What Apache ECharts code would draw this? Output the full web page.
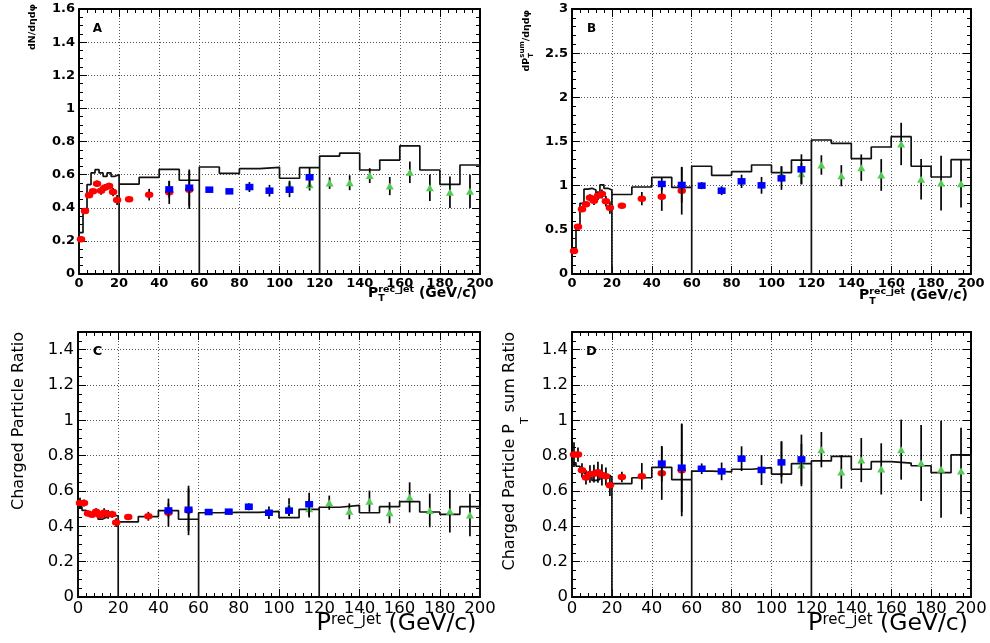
<!DOCTYPE html>
<html><head><meta charset="utf-8">
<script src="https://cdn.jsdelivr.net/npm/echarts@6/dist/echarts.min.js"></script>
<style>html,body{margin:0;padding:0;background:#fff}#c{width:990px;height:643px}</style>
</head><body><div id="c"></div>
<script>
// ---------------- DATA ----------------
const redX   = [1, 3, 5, 7, 9, 11, 13, 15, 17, 19, 25, 35, 45, 55];
const blueX  = [45, 55, 65, 75, 85, 95, 105, 115];
const greenX = [105, 115, 125, 135, 145, 155, 165, 175, 185, 195];

const edgesFine = [0, 2, 4, 6, 8, 10, 12, 14, 16, 18, 20];
const edgesMid  = [20, 30, 40, 50, 60];
const edgesHigh = [60, 70, 80, 90, 100, 110, 120];
const edgesTop  = [120, 130, 140, 150, 160, 170, 180, 190, 200];

// Panel A : dN/detadphi
const redA      = [0.21, 0.38, 0.475, 0.50, 0.545, 0.503, 0.523, 0.531, 0.495, 0.447, 0.451, 0.479, 0.493, 0.508];
const redAErr   = [0.01, 0.015, 0.015, 0.015, 0.02, 0.025, 0.02, 0.02, 0.025, 0.03, 0.012, 0.035, 0.07, 0.115];
const blueA     = [0.511, 0.521, 0.509, 0.499, 0.525, 0.503, 0.509, 0.584];
const blueAErr  = [0.05, 0.11, 0.01, 0.015, 0.03, 0.035, 0.045, 0.06];
const greenA    = [0.533, 0.539, 0.549, 0.551, 0.594, 0.531, 0.614, 0.521, 0.493, 0.499];
const greenAErr = [0.03, 0.035, 0.035, 0.045, 0.045, 0.055, 0.065, 0.08, 0.095, 0.1];
const histAFine = [0.25, 0.37, 0.54, 0.61, 0.63, 0.61, 0.59, 0.61, 0.59, 0.60];
const histAMid  = [0.543, 0.584, 0.632, 0.566];
const histAHigh = [0.646, 0.608, 0.636, 0.644, 0.578, 0.642];
const histATop  = [0.712, 0.73, 0.628, 0.688, 0.773, 0.628, 0.541, 0.658];

// Panel B : dPT sum/detadphi
const redB      = [0.26, 0.536, 0.732, 0.789, 0.864, 0.83, 0.887, 0.906, 0.823, 0.751, 0.774, 0.853, 0.875, 0.943];
const redBErr   = [0.02, 0.02, 0.03, 0.03, 0.04, 0.05, 0.05, 0.05, 0.06, 0.07, 0.03, 0.075, 0.16, 0.27];
const blueB     = [1.019, 1.008, 1.0, 0.943, 1.049, 1.004, 1.083, 1.185];
const blueBErr  = [0.07, 0.2, 0.04, 0.05, 0.075, 0.095, 0.13, 0.17];
const greenB    = [1.132, 1.136, 1.234, 1.113, 1.204, 1.121, 1.472, 1.072, 1.03, 1.023];
const greenBErr = [0.09, 0.12, 0.11, 0.12, 0.15, 0.18, 0.24, 0.23, 0.31, 0.27];
const histBFine = [0.29, 0.55, 0.80, 0.96, 0.97, 0.95, 0.92, 1.01, 0.97, 0.95];
const histBMid  = [0.90, 0.985, 1.094, 0.98];
const histBHigh = [1.22, 1.117, 1.158, 1.234, 1.147, 1.29];
const histBTop  = [1.517, 1.479, 1.306, 1.438, 1.555, 1.22, 1.098, 1.294];

// Panel C : charged particle ratio
const redC      = [0.532, 0.532, 0.472, 0.466, 0.483, 0.462, 0.477, 0.468, 0.468, 0.421, 0.453, 0.457, 0.477, 0.49];
const redCErr   = [0.03, 0.02, 0.015, 0.015, 0.02, 0.02, 0.025, 0.025, 0.02, 0.025, 0.015, 0.025, 0.08, 0.14];
const blueC     = [0.49, 0.494, 0.481, 0.483, 0.511, 0.477, 0.489, 0.525];
const blueCErr  = [0.04, 0.12, 0.01, 0.015, 0.02, 0.035, 0.03, 0.065];
const greenC    = [0.509, 0.5, 0.534, 0.485, 0.542, 0.477, 0.564, 0.49, 0.485, 0.464];
const greenCErr = [0.05, 0.05, 0.04, 0.045, 0.06, 0.06, 0.085, 0.095, 0.12, 0.12];
const histCFine = [0.51, 0.49, 0.48, 0.47, 0.47, 0.44, 0.45, 0.46, 0.46, 0.46];
const histCMid  = [0.425, 0.455, 0.489, 0.44];
const histCHigh = [0.477, 0.479, 0.479, 0.485, 0.449, 0.496];
const histCTop  = [0.508, 0.519, 0.477, 0.511, 0.54, 0.481, 0.468, 0.511];

// Panel D : charged particle PT sum ratio
const redD      = [0.806, 0.806, 0.717, 0.677, 0.696, 0.698, 0.706, 0.691, 0.683, 0.632, 0.679, 0.683, 0.70, 0.717];
const redDErr   = [0.07, 0.04, 0.04, 0.04, 0.05, 0.05, 0.06, 0.06, 0.05, 0.06, 0.03, 0.075, 0.15, 0.26];
const blueD     = [0.755, 0.732, 0.726, 0.711, 0.783, 0.719, 0.762, 0.779];
const blueDErr  = [0.1, 0.25, 0.03, 0.05, 0.07, 0.085, 0.12, 0.14];
const greenD    = [0.779, 0.747, 0.834, 0.708, 0.775, 0.725, 0.834, 0.758, 0.723, 0.713];
const greenDErr = [0.1, 0.12, 0.1, 0.095, 0.125, 0.145, 0.17, 0.215, 0.275, 0.245];
const histDFine = [0.76, 0.74, 0.72, 0.70, 0.69, 0.66, 0.665, 0.68, 0.69, 0.68];
const histDMid  = [0.642, 0.675, 0.734, 0.664];
const histDHigh = [0.713, 0.708, 0.723, 0.732, 0.696, 0.755];
const histDTop  = [0.77, 0.796, 0.723, 0.766, 0.758, 0.743, 0.704, 0.804];

const panelLetters = ['A', 'B', 'C', 'D'];
const yMaxes = [1.6, 3, 1.5, 1.5];
const yIntervals = [0.2, 0.5, 0.2, 0.2];

// ---------------- LAYOUT / STYLE ----------------
const FONT = 'DejaVu Sans';
const panels = [
  {grid:{left:79, top:9, width:401, height:265}, yMinor:4, lblSize:13, lblWeight:'bold', hideMax:false,
   hist:[histAFine, histAMid, histAHigh, histATop], red:[redA, redAErr], blue:[blueA, blueAErr], green:[greenA, greenAErr]},
  {grid:{left:572, top:9, width:399, height:265}, yMinor:5, lblSize:13, lblWeight:'bold', hideMax:false,
   hist:[histBFine, histBMid, histBHigh, histBTop], red:[redB, redBErr], blue:[blueB, blueBErr], green:[greenB, greenBErr]},
  {grid:{left:78, top:332, width:402, height:265}, yMinor:4, lblSize:16.5, lblWeight:'normal', hideMax:true,
   hist:[histCFine, histCMid, histCHigh, histCTop], red:[redC, redCErr], blue:[blueC, blueCErr], green:[greenC, greenCErr]},
  {grid:{left:572, top:332, width:399, height:265}, yMinor:4, lblSize:16.5, lblWeight:'normal', hideMax:true,
   hist:[histDFine, histDMid, histDHigh, histDTop], red:[redD, redDErr], blue:[blueD, blueDErr], green:[greenD, greenDErr]}
];
const edgeSets = [edgesFine, edgesMid, edgesHigh, edgesTop];

function histPoints(valueSets) {
  const pts = [];
  valueSets.forEach((vals, s) => {
    const edges = edgeSets[s];
    pts.push([edges[0], 0]);
    vals.forEach((v, i) => pts.push([edges[i], v]));
    pts.push([edges[edges.length - 1], vals[vals.length - 1]]);
    pts.push([edges[edges.length - 1], 0]);
  });
  return pts;
}

const errRender = (params, api) => {
  const x = api.value(0), y = api.value(1), e = api.value(2);
  const a = api.coord([x, y - e]), b = api.coord([x, y + e]);
  return {type:'line', shape:{x1:a[0], y1:a[1], x2:b[0], y2:b[1]},
          style:{stroke:'#000', lineWidth:1.7}};
};

const grids = [], xAxes = [], yAxes = [], series = [];
const axisLineStyle = {color:'#000', width:2};
panels.forEach((p, i) => {
  grids.push(Object.assign({outerBoundsMode:'none', containLabel:false}, p.grid));
  const lbl = {color:'#000', fontFamily:FONT, fontSize:p.lblSize, fontWeight:p.lblWeight};
  const common = {gridIndex:i, type:'value', axisLine:{show:true, onZero:false, lineStyle:axisLineStyle},
    axisTick:{show:true, inside:true, length:8, lineStyle:{color:'#000', width:1}}};
  xAxes.push(Object.assign({}, common, {position:'bottom', min:0, max:200, interval:20,
    minorTick:{show:true, splitNumber:5, length:4, lineStyle:{color:'#000', width:1}},
    splitLine:{show:true, lineStyle:{color:'#555', type:[1,2], width:1}},
    axisLabel:Object.assign({margin:3}, lbl)}));
  xAxes.push(Object.assign({}, common, {position:'top', min:0, max:200, interval:20,
    minorTick:{show:true, splitNumber:5, length:4, lineStyle:{color:'#000', width:1}},
    splitLine:{show:false}, axisLabel:{show:false}}));
  yAxes.push(Object.assign({}, common, {position:'left', min:0, max:yMaxes[i], interval:yIntervals[i],
    minorTick:{show:true, splitNumber:p.yMinor, length:4, lineStyle:{color:'#000', width:1}},
    splitLine:{show:true, lineStyle:{color:'#555', type:[1,2], width:1}},
    axisLabel:Object.assign({margin:4, showMaxLabel:!p.hideMax}, lbl)}));
  yAxes.push(Object.assign({}, common, {position:'right', min:0, max:yMaxes[i], interval:yIntervals[i],
    minorTick:{show:true, splitNumber:p.yMinor, length:4, lineStyle:{color:'#000', width:1}},
    splitLine:{show:false}, axisLabel:{show:false}}));

  const ax = {xAxisIndex:2*i, yAxisIndex:2*i};
  series.push(Object.assign({type:'line', step:'end', data:histPoints(p.hist), showSymbol:false, symbol:'none',
    lineStyle:{color:'#111', width:1.7}, z:2, silent:true}, ax));
  const groups = [
    {xs:redX, d:p.red, color:'#ff0000', symbol:'circle', size:[8.5,6.5], z:4},
    {xs:greenX, d:p.green, color:'#55cc55', symbol:'triangle', size:[8,7], z:5},
    {xs:blueX, d:p.blue, color:'#0000ff', symbol:'rect', size:[8,6.5], z:6}
  ];
  groups.forEach(g => {
    series.push(Object.assign({type:'custom', renderItem:errRender, z:g.z, silent:true,
      encode:{x:0, y:1}, data:g.xs.map((x, k) => [x, g.d[0][k], g.d[1][k]])}, ax));
    series.push(Object.assign({type:'scatter', symbol:g.symbol, symbolSize:g.size, z:g.z, silent:true,
      itemStyle:{color:g.color, opacity:1}, data:g.xs.map((x, k) => [x, g.d[0][k]])}, ax));
  });
});

// ---------- text helpers ----------
const mctx = document.createElement('canvas').getContext('2d');
function measure(t, size, weight) {
  mctx.font = (weight || 'normal') + ' ' + size + 'px "' + FONT + '"';
  return mctx.measureText(t).width;
}
function seqText(x, y, rotation, tokens, alignEnd) {
  const children = [];
  let cx = 0, i = 0;
  while (i < tokens.length) {
    const g = tokens[i].grp;
    let maxW = 0, j = i;
    do {
      const tk = tokens[j];
      const w = measure(tk.t, tk.size, tk.weight);
      children.push({type:'text', x:cx, y:tk.dy || 0, style:{text:tk.t, fontFamily:FONT, fontSize:tk.size,
        fontWeight:tk.weight || 'normal', fill:'#000', align:'left', verticalAlign:'middle'}});
      maxW = Math.max(maxW, w); j++;
    } while (g != null && j < tokens.length && tokens[j].grp === g);
    cx += maxW; i = j;
  }
  if (alignEnd) children.forEach(c => { c.x -= cx; });
  return {type:'group', x:x, y:y, rotation:rotation, silent:true, children:children};
}
const R = Math.PI / 2;
const graphics = [
  // x titles
  seqText(368, 293, 0, [{t:'P', size:14, weight:'bold'}, {t:'T', size:9.5, weight:'bold', dy:6, grp:1},
    {t:'rec_jet', size:9.5, weight:'bold', dy:-3.5, grp:1}, {t:' (GeV/c)', size:14, weight:'bold'}]),
  seqText(859, 295.5, 0, [{t:'P', size:14, weight:'bold'}, {t:'T', size:9.5, weight:'bold', dy:6, grp:1},
    {t:'rec_jet', size:9.5, weight:'bold', dy:-3.5, grp:1}, {t:' (GeV/c)', size:14, weight:'bold'}]),
  seqText(316.5, 624, 0, [{t:'P', size:24}, {t:'rec_jet', size:15, dy:-4}, {t:' (GeV/c)', size:23.5}]),
  seqText(808, 624, 0, [{t:'P', size:24}, {t:'rec_jet', size:15, dy:-4}, {t:' (GeV/c)', size:23.5}]),
  // y titles
  seqText(33, 4, R, [{t:'dN/d\u03b7d\u03c6', size:9.5, weight:'bold'}], true),
  seqText(527, 10, R, [{t:'dP', size:9.5, weight:'bold'}, {t:'T', size:7, weight:'bold', dy:4, grp:1},
    {t:'sum', size:7, weight:'bold', dy:-4.5, grp:1}, {t:'/d\u03b7d\u03c6', size:9.5, weight:'bold'}], true),
  seqText(19, 332, R, [{t:'Charged Particle Ratio', size:16}], true),
  seqText(510, 332, R, [{t:'Charged Particle P', size:16}, {t:'T', size:11, dy:15}, {t:' sum Ratio', size:16}], true)
];
const letterPos = [[97.5, 29, 12], [591.5, 29, 12], [97.5, 352, 13], [591.5, 352, 13]];
panelLetters.forEach((L, i) => {
  graphics.push({type:'text', x:letterPos[i][0], y:letterPos[i][1], silent:true,
    style:{text:L, fontFamily:FONT, fontSize:letterPos[i][2], fontWeight:'bold', fill:'#000', align:'center', verticalAlign:'middle'}});
});

const chart = echarts.init(document.getElementById('c'), null, {renderer:'canvas'});
chart.setOption({
  animation:false,
  backgroundColor:'#fff',
  grid:grids, xAxis:xAxes, yAxis:yAxes, series:series,
  graphic:graphics
});
</script></body></html>
